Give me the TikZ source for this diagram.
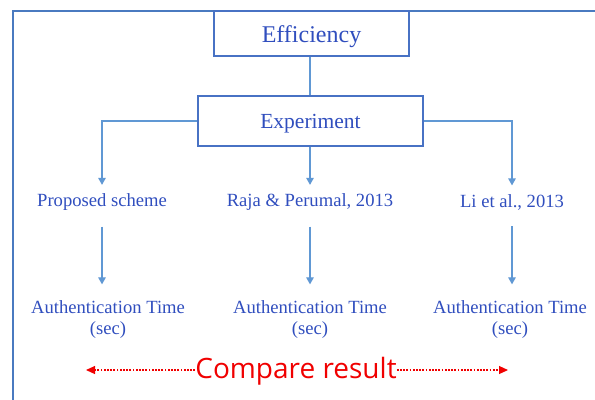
\documentclass[tikz,border=0pt]{standalone}
\usepackage{fontspec}
\setmainfont{Liberation Serif}
\newfontfamily\cmpfont{Open Sans}
\usetikzlibrary{arrows.meta}
\definecolor{txtblue}{RGB}{48,78,190}
\definecolor{boxblue}{RGB}{72,114,196}
\definecolor{lineblue}{RGB}{96,152,212}
\definecolor{frameblue}{RGB}{74,122,192}
\definecolor{cmpred}{RGB}{240,0,0}
\tikzset{
  box/.style={draw=boxblue, line width=1.3bp, fill=white, text=txtblue, inner sep=0pt},
  lbl/.style={text=txtblue, inner sep=0pt, font=\fontsize{18.6bp}{21bp}\selectfont, align=center},
  conn/.style={draw=lineblue, line width=1.2bp},
  arr/.style={conn, -{Triangle[width=7.5bp,length=7bp]}},
  dotarr/.style={draw=cmpred, line width=1.1bp, dash pattern=on 1.8bp off 1.4bp, -{Triangle[width=8bp,length=9bp]}},
  framel/.style={draw=frameblue, line width=2bp}
}
\begin{document}
\begin{tikzpicture}[x=1bp,y=-1bp]
\useasboundingbox (0,0) rectangle (595,399);
\draw[framel] (13,400) -- (13,11) -- (596,11);

\node[box, minimum width=195bp, minimum height=45bp, text height=21bp, text depth=4bp,
      font=\fontsize{24bp}{26bp}\selectfont] (eff) at (311.5,33.5) {Efficiency};
\node[box, minimum width=225bp, minimum height=50bp, text height=19bp, text depth=4bp,
      font=\fontsize{21.5bp}{24bp}\selectfont] (exp) at (310.5,121) {Experiment};

\node[lbl] (p1) at (102,202.5) {Proposed scheme};
\node[lbl] (r1) at (310,202.5) {Raja \& Perumal, 2013};
\node[lbl] (l1) at (512,202.5) {Li et al., 2013};

\node[lbl] (a1) at (108,319.5) {Authentication Time\\(sec)};
\node[lbl] (a2) at (310,319.5) {Authentication Time\\(sec)};
\node[lbl] (a3) at (510,319.5) {Authentication Time\\(sec)};

\node[text=cmpred, inner sep=0pt, font=\cmpfont\fontsize{28bp}{30bp}\selectfont] (cmp) at (296,371.5) {Compare result};
\coordinate (cl) at (86,370);
\coordinate (cr) at (508,370);

\draw[conn] (eff.south -| 310,0) -- (exp.north -| 310,0);
\draw[arr, shorten >=9bp] (exp.west) -| (p1.north);
\draw[arr, shorten >=9bp] (exp.south -| r1.north) -- (r1.north);
\draw[arr, shorten >=9bp] (exp.east) -| (l1.north);

\draw[arr, shorten <=15.5bp, shorten >=16bp] (p1.south) -- (p1.south |- a1.north);
\draw[arr, shorten <=15.5bp, shorten >=16bp] (r1.south) -- (r1.south |- a2.north);
\draw[arr, shorten <=15.5bp, shorten >=16bp] (l1.south) -- (l1.south |- a3.north);

\draw[dotarr] (cmp.west |- cl) -- (cl);
\draw[dotarr] (cmp.east |- cr) -- (cr);
\end{tikzpicture}
\end{document}
